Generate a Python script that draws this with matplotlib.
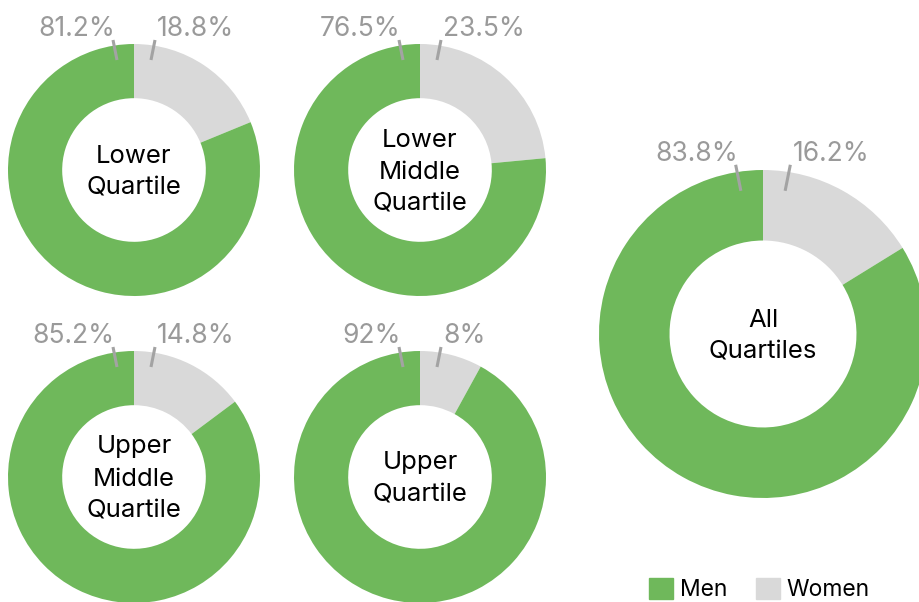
import matplotlib.pyplot as plt
from matplotlib.patches import Patch

# data
groups = ["Lower\nQuartile", "Lower\nMiddle\nQuartile", "Upper\nMiddle\nQuartile",
          "Upper\nQuartile", "All\nQuartiles"]
men = [81.2, 76.5, 85.2, 92, 83.8]
women = [18.8, 23.5, 14.8, 8, 16.2]
men_labels = ["81.2%", "76.5%", "85.2%", "92%", "83.8%"]
women_labels = ["18.8%", "23.5%", "14.8%", "8%", "16.2%"]

GREEN = "#6fb85b"
GREY = "#d9d9d9"
TXT = "#9a9a9a"
plt.rcParams['font.family'] = ['Inter', 'DejaVu Sans']

W, H = 920, 602
# layout in pixels (x, y from top, outer radius)
layout = [(134, 170, 126), (420, 170, 126), (134, 477, 126), (420, 477, 126), (763, 334, 164)]

fig = plt.figure(figsize=(W / 100, H / 100), dpi=100)
ax = fig.add_axes([0, 0, 1, 1])

for i, (cx, cy, r) in enumerate(layout):
    y = H - cy
    ax.pie([women[i], men[i]], colors=[GREY, GREEN], center=(cx, y), radius=r,
           startangle=90, counterclock=False,
           wedgeprops=dict(width=0.43 * r, linewidth=0))
    ax.text(cx, y - 2, groups[i], ha='center', va='center', fontsize=18.5,
            color='black', linespacing=1.5)
    # leader lines and percentage labels
    k = r / 126
    for s, lab in ((-1, men_labels[i]), (1, women_labels[i])):
        x0, y0 = cx + s * 17 * k, y + 110 * k
        x1, y1 = cx + s * 21 * k, y + 130 * k
        ax.plot([x0, x1], [y0, y1], color="#a3a3a3", lw=2.2, solid_capstyle='butt')
        ax.text(x1 + 2, y1 - 2, lab, ha='right' if s < 0 else 'left', va='bottom',
                fontsize=19, color=TXT)

# pie() resets the limits, so set them afterwards
ax.set_xlim(0, W)
ax.set_ylim(0, H)
ax.set_aspect('equal')
ax.axis('off')

handles = [Patch(color=GREEN, label="Men"), Patch(color=GREY, label="Women")]
ax.legend(handles=handles, loc='lower right', bbox_to_anchor=(0.968, -0.033), ncol=2,
          frameon=False, fontsize=16.5, handlelength=1.05, handleheight=1.05,
          handletextpad=0.3, columnspacing=1.25)

fig.savefig("out.png", dpi=100)
